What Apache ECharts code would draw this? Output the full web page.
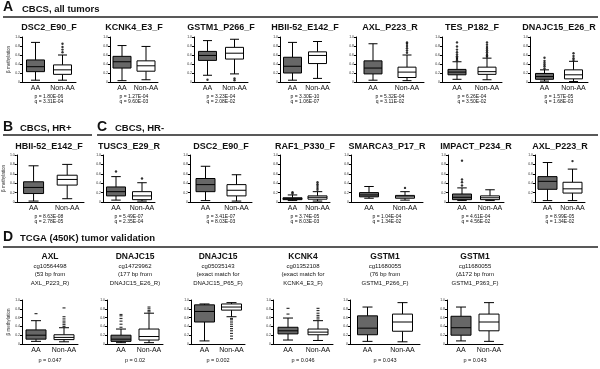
<!DOCTYPE html>
<html>
<head>
<meta charset="utf-8">
<script src="https://cdn.jsdelivr.net/npm/echarts@6/dist/echarts.min.js"></script>
<style>
    html, body { margin: 0; padding: 0; background: #fff; }
    #chart { width: 600px; height: 369px; }
</style>
</head>
<body>
<div id="chart"></div>
<script>
    const groups = ['AA', 'Non-AA']

    // A: CBCS, all tumors  (box = [low whisker, Q1, median, Q3, high whisker])
    const namesA = ['DSC2_E90_F', 'KCNK4_E3_F', 'GSTM1_P266_F', 'HBII-52_E142_F', 'AXL_P223_R', 'TES_P182_F', 'DNAJC15_E26_R']
    const boxAA_A = [
        [0.04, 0.23, 0.34, 0.49, 0.88],
        [0.03, 0.31, 0.45, 0.57, 0.81],
        [0.15, 0.48, 0.59, 0.68, 0.92],
        [0.04, 0.20, 0.35, 0.55, 0.88],
        [0.04, 0.18, 0.31, 0.47, 0.85],
        [0.06, 0.16, 0.22, 0.28, 0.45],
        [0.02, 0.06, 0.12, 0.19, 0.27]
    ]
    const boxNon_A = [
        [0.04, 0.17, 0.27, 0.38, 0.60],
        [0.05, 0.24, 0.36, 0.47, 0.79],
        [0.18, 0.51, 0.64, 0.77, 0.95],
        [0.08, 0.41, 0.59, 0.67, 0.90],
        [0.03, 0.10, 0.22, 0.33, 0.60],
        [0.05, 0.17, 0.23, 0.33, 0.53],
        [0.01, 0.07, 0.16, 0.27, 0.46]
    ]
    const outAA_A = [[], [], [0.05], [], [], [0.48, 0.51, 0.54, 0.57, 0.61, 0.66, 0.72, 0.79, 0.88], [0.30, 0.35, 0.39, 0.43, 0.47, 0.54]]
    const outNon_A = [[0.66, 0.72, 0.78, 0.85], [], [0.04, 0.08], [], [0.65, 0.70, 0.75, 0.80, 0.85, 0.88], [0.56, 0.59, 0.62, 0.66, 0.70, 0.74, 0.78, 0.83, 0.88], [0.49, 0.53, 0.58, 0.64]]
    const pA = ['1.80E-06', '1.27E-04', '3.23E-04', '3.30E-10', '5.32E-04', '6.26E-04', '1.57E-05']
    const qA = ['3.31E-04', '9.60E-03', '2.08E-02', '1.06E-07', '3.11E-02', '3.50E-02', '1.68E-03']

    // B: CBCS, HR+
    const namesB = ['HBII-52_E142_F']
    const boxAA_B = [[0.02, 0.18, 0.31, 0.43, 0.77]]
    const boxNon_B = [[0.07, 0.36, 0.48, 0.57, 0.80]]
    const outAA_B = [[]]
    const outNon_B = [[]]
    const pB = ['8.63E-08']
    const qB = ['2.78E-05']

    // C: CBCS, HR-
    const namesC = ['TUSC3_E29_R', 'DSC2_E90_F', 'RAF1_P330_F', 'SMARCA3_P17_R', 'IMPACT_P234_R', 'AXL_P223_R']
    const boxAA_C = [
        [0.04, 0.13, 0.22, 0.32, 0.54],
        [0.03, 0.22, 0.37, 0.50, 0.76],
        [0.03, 0.05, 0.07, 0.09, 0.15],
        [0.08, 0.11, 0.15, 0.20, 0.33],
        [0.03, 0.05, 0.10, 0.17, 0.30],
        [0.03, 0.27, 0.44, 0.54, 0.84]
    ]
    const boxNon_C = [
        [0.02, 0.05, 0.13, 0.22, 0.41],
        [0.02, 0.13, 0.25, 0.37, 0.58],
        [0.02, 0.06, 0.10, 0.13, 0.22],
        [0.04, 0.08, 0.11, 0.14, 0.22],
        [0.03, 0.05, 0.09, 0.13, 0.26],
        [0.03, 0.19, 0.28, 0.42, 0.70]
    ]
    const outAA_C = [[0.65], [], [0.18, 0.21], [], [0.35, 0.42, 0.48, 0.88], []]
    const outNon_C = [[0.50], [], [0.26, 0.30, 0.34, 0.38, 0.42], [0.30], [], [0.87]]
    const pC = ['5.49E-07', '3.41E-07', '3.74E-05', '1.04E-04', '4.61E-04', '8.99E-05']
    const qC = ['2.35E-04', '8.03E-03', '8.03E-03', '1.34E-02', '4.56E-02', '1.34E-02']

    // D: TCGA (450K) tumor validation
    const namesD = ['AXL', 'DNAJC15', 'DNAJC15', 'KCNK4', 'GSTM1', 'GSTM1']
    const probesD = ['cg10564498', 'cg14729962', 'cg05035143', 'cg01352108', 'cg11680055', 'cg11680055']
    const relD = ['(53 bp from', '(177 bp from', '(exact match for', '(exact match for', '(76 bp from', '(Δ172 bp from']
    const refD = ['AXL_P223_R)', 'DNAJC15_E26_R)', 'DNAJC15_P65_F)', 'KCNK4_E3_F)', 'GSTM1_P266_F)', 'GSTM1_P363_F)']
    const boxAA_D = [
        [0.06, 0.11, 0.20, 0.32, 0.53],
        [0.03, 0.06, 0.11, 0.20, 0.34],
        [0.07, 0.50, 0.74, 0.89, 0.91],
        [0.09, 0.23, 0.30, 0.38, 0.59],
        [0.06, 0.21, 0.36, 0.64, 0.84],
        [0.07, 0.20, 0.37, 0.63, 0.84]
    ]
    const boxNon_D = [
        [0.05, 0.10, 0.15, 0.21, 0.37],
        [0.03, 0.09, 0.17, 0.34, 0.70],
        [0.62, 0.77, 0.84, 0.91, 0.94],
        [0.08, 0.21, 0.27, 0.34, 0.53],
        [0.05, 0.29, 0.50, 0.68, 0.94],
        [0.06, 0.30, 0.50, 0.68, 0.94]
    ]
    const outAA_D = [[0.69], [0.38, 0.45, 0.52, 0.58, 0.64, 0.67], [], [0.68, 0.81], [], []]
    const outNon_D = [[0.40, 0.44, 0.48, 0.52, 0.57, 0.62, 0.82], [0.73, 0.76, 0.80, 0.84], [0.12, 0.18, 0.24, 0.30, 0.35, 0.40, 0.45, 0.50, 0.55, 0.58], [0.57, 0.61, 0.65, 0.70, 0.76, 0.81], [], []]
    const pD = ['0.047', '0.02', '0.002', '0.046', '0.043', '0.043']

    // layout: [grid left, grid width] per panel
    const posA = [[22, 54], [110, 48], [194, 54], [280, 50], [356, 68], [442, 60], [530, 58]]
    const posB = [[14, 70]]
    const posC = [[103, 52], [190, 62], [280, 50], [351, 72], [448, 56], [535, 50]]
    const posD = [[22, 56], [107, 56], [191, 54], [273, 60], [350, 70], [447, 56]]

    const FONT = '"Liberation Sans", Arial, sans-serif'
    const FILLS = ['#676767', '#ffffff']
    const grids = [], xAxes = [], yAxes = [], series = [], graphics = []

    function text (str, x, y, size, bold, align) {
        graphics.push({
            type: 'text', x: x, y: y,
            style: {
                text: str, fill: '#111', fontSize: size, fontWeight: bold ? 'bold' : 'normal',
                fontFamily: FONT, align: align || 'center', verticalAlign: 'middle'
            }
        })
    }

    function hline (x1, x2, y) {
        graphics.push({
            type: 'line', shape: { x1: x1, y1: y, x2: x2, y2: y },
            style: { stroke: '#222', lineWidth: 1.4 }
        })
    }

    // box with narrow whisker caps, drawn through the axis scales
    function boxRenderer (boxW) {
        return function (params, api) {
            const x = api.value(0)
            const p = [1, 2, 3, 4, 5].map(d => api.coord([x, api.value(d)]))
            const cx = p[0][0]
            const half = boxW / 2, cap = boxW * 0.25
            const ls = { stroke: '#000', lineWidth: 1 }
            const seg = (x1, y1, x2, y2) => ({ type: 'line', shape: { x1: x1, y1: y1, x2: x2, y2: y2 }, style: ls })
            return {
                type: 'group',
                children: [
                    seg(cx, p[0][1], cx, p[1][1]),
                    seg(cx, p[3][1], cx, p[4][1]),
                    seg(cx - cap, p[0][1], cx + cap, p[0][1]),
                    seg(cx - cap, p[4][1], cx + cap, p[4][1]),
                    {
                        type: 'rect',
                        shape: { x: cx - half, y: p[3][1], width: boxW, height: p[1][1] - p[3][1] },
                        style: { fill: FILLS[x], stroke: '#000', lineWidth: 1 }
                    },
                    seg(cx - half, p[2][1], cx + half, p[2][1])
                ]
            }
        }
    }

    function panel (left, width, top, height, aa, non, oa, on, yName, boxW, outSym) {
        const i = grids.length
        grids.push({ left: left, top: top, width: width, height: height })
        xAxes.push({
            gridIndex: i, type: 'category', data: groups,
            axisLine: { lineStyle: { color: '#000', width: 1 } },
            axisTick: { show: false },
            axisLabel: { fontSize: 7, color: '#111', margin: 3, fontFamily: FONT, interval: 0 }
        })
        yAxes.push({
            gridIndex: i, type: 'value', min: 0, max: 1, interval: 0.2,
            name: yName ? 'β methylation' : '', nameLocation: 'middle', nameGap: 9, nameRotate: 90,
            nameTextStyle: { fontSize: 4.5, color: '#333', fontFamily: FONT },
            axisLine: { show: true, lineStyle: { color: '#000', width: 1 } },
            axisTick: { show: true, length: 2, lineStyle: { color: '#000' } },
            splitLine: { show: false },
            axisLabel: {
                fontSize: 3.5, color: '#333', margin: 2, fontFamily: FONT,
                formatter: v => (v === 0 ? '0' : v.toFixed(1))
            }
        })
        series.push({
            type: 'custom', xAxisIndex: i, yAxisIndex: i,
            renderItem: boxRenderer(boxW),
            encode: { x: 0, y: [1, 2, 3, 4, 5] },
            silent: true,
            data: [[0].concat(aa), [1].concat(non)]
        })
        const pts = oa.map(v => [0, v]).concat(on.map(v => [1, v]))
        if (pts.length) {
            series.push({
                type: 'scatter', xAxisIndex: i, yAxisIndex: i,
                symbol: outSym[0], symbolSize: outSym[1],
                itemStyle: { color: '#000' },
                silent: true,
                data: pts
            })
        }
    }

    // headers
    text('A', 3, 7, 14, true, 'left')
    text('CBCS, all tumors', 22, 9, 9.5, true, 'left')
    hline(3, 598, 17)
    text('B', 3, 127, 14, true, 'left')
    text('CBCS, HR+', 20, 128, 9.5, true, 'left')
    hline(3, 92, 135)
    text('C', 97, 127, 14, true, 'left')
    text('CBCS, HR-', 115, 128, 9.5, true, 'left')
    hline(97, 598, 135)
    text('D', 3, 237, 14, true, 'left')
    text('TCGA (450K) tumor validation', 20, 238, 9.5, true, 'left')
    hline(3, 598, 247)

    namesA.forEach((n, k) => {
        const [l, w] = posA[k]
        panel(l, w, 37, 45, boxAA_A[k], boxNon_A[k], outAA_A[k], outNon_A[k], k === 0, 18, ['circle', 2.4])
        const cx = l + w / 2
        text(n, cx, 28, 9, true)
        text('p = ' + pA[k], cx, 96.5, 5)
        text('q = ' + qA[k], cx, 102, 5)
    })

    namesB.forEach((n, k) => {
        const [l, w] = posB[k]
        panel(l, w, 155, 47, boxAA_B[k], boxNon_B[k], outAA_B[k], outNon_B[k], true, 20, ['circle', 2.4])
        const cx = l + w / 2
        text(n, cx, 147, 9, true)
        text('p = ' + pB[k], cx, 217, 5)
        text('q = ' + qB[k], cx, 222, 5)
    })

    namesC.forEach((n, k) => {
        const [l, w] = posC[k]
        panel(l, w, 155, 47, boxAA_C[k], boxNon_C[k], outAA_C[k], outNon_C[k], false, 19, ['circle', 2.4])
        const cx = l + w / 2
        text(n, cx, 147, 9, true)
        text('p = ' + pC[k], cx, 217, 5)
        text('q = ' + qC[k], cx, 222, 5)
    })

    namesD.forEach((n, k) => {
        const [l, w] = posD[k]
        panel(l, w, 300, 44, boxAA_D[k], boxNon_D[k], outAA_D[k], outNon_D[k], k === 0, 20, ['rect', [3, 1.2]])
        const cx = l + w / 2
        text(n, cx, 257, 8.5, true)
        text(probesD[k], cx, 266, 6)
        text(relD[k], cx, 274.5, 6)
        text(refD[k], cx, 283, 6)
        text('p = ' + pD[k], cx, 360, 5.5)
    })

    const myChart = echarts.init(document.getElementById('chart'), null, { renderer: 'canvas' })
    myChart.setOption({
        animation: false,
        backgroundColor: '#fff',
        grid: grids,
        xAxis: xAxes,
        yAxis: yAxes,
        series: series,
        graphic: graphics
    })
</script>
</body>
</html>
